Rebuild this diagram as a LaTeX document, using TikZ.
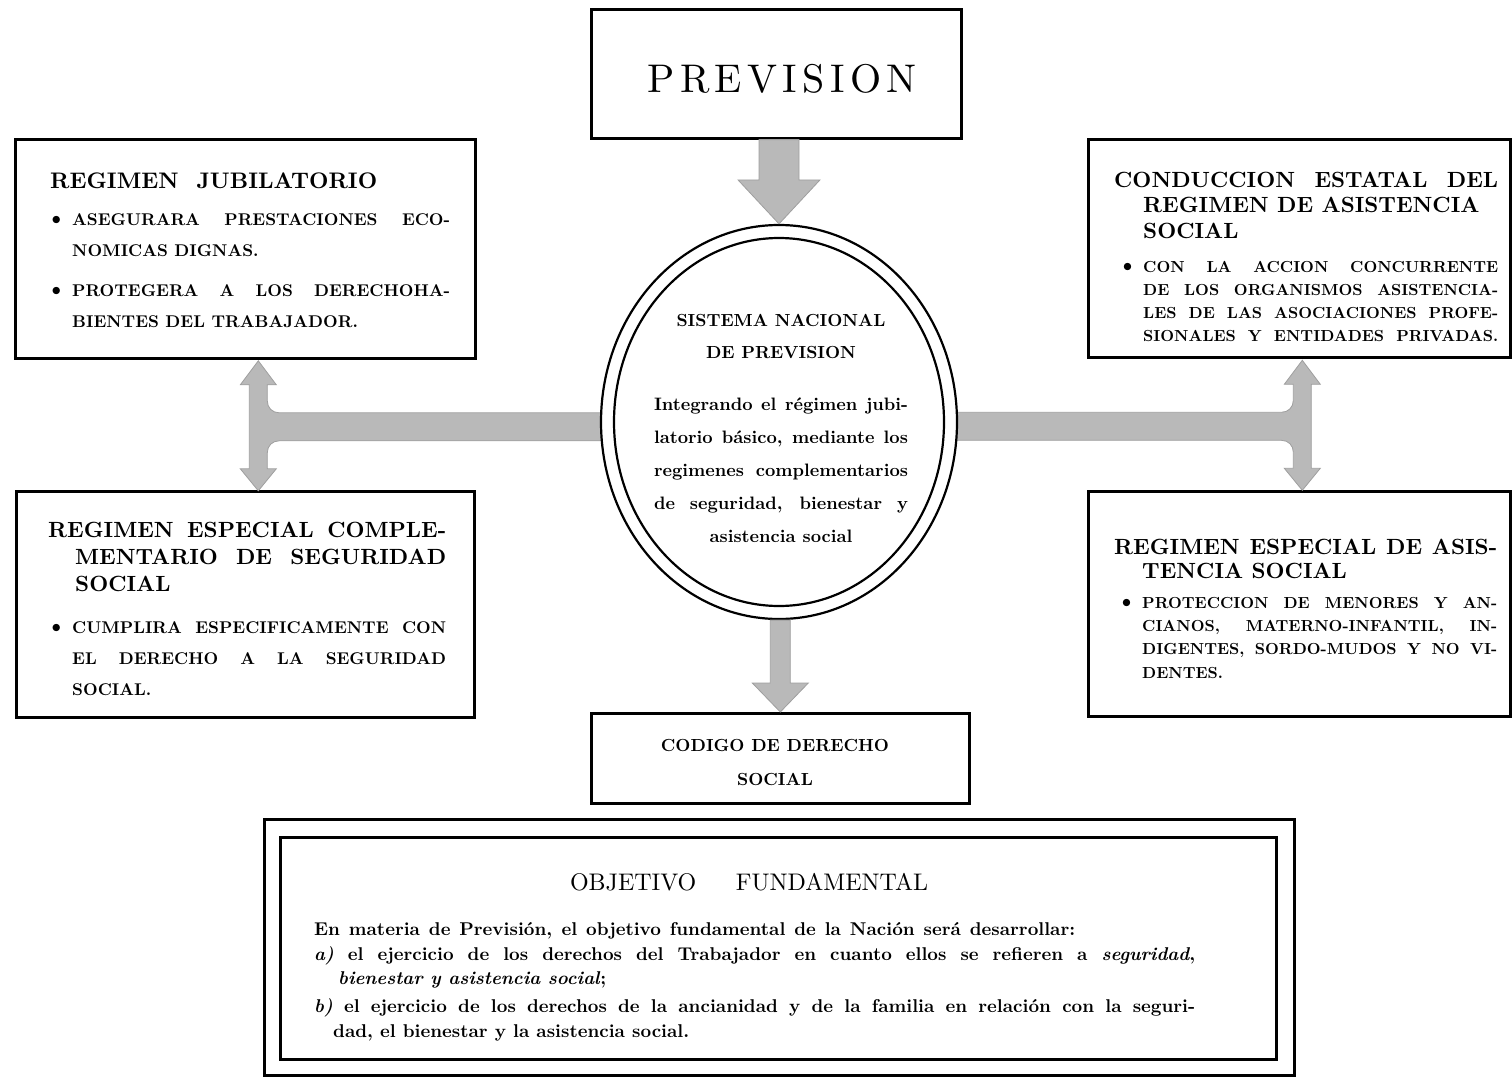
\documentclass[tikz,border=0pt]{standalone}
\usepackage{fontspec}
\setmainfont{lmroman10-regular.otf}[BoldFont=lmroman10-bold.otf,
  ItalicFont=lmroman10-italic.otf, BoldItalicFont=lmroman10-bolditalic.otf]
\usetikzlibrary{shapes.geometric,calc}

\tikzset{
  frame/.style={draw, line width=2.6pt, inner sep=0pt, anchor=north west},
  ring/.style={draw, ellipse, line width=2.2pt, inner sep=0pt},
  greyarrow/.style={fill=gray!55, draw=gray!75, line width=0.8pt},
  txt/.style={anchor=base west, inner sep=0pt, align=left},
  ctxt/.style={anchor=base, inner sep=0pt, align=center},
}

\newcommand{\fsz}[2]{\fontsize{#1}{#2}\selectfont}
\newcommand{\jl}[2]{\makebox[#1pt][s]{#2}}
\newcommand{\bul}{\llap{{\fsz{24}{24}\textbullet}\hspace{5pt}}}
% T-shaped double arrow, origin at the joint
\newcommand{\tconn}[1]{\path[greyarrow,#1] (0,-66) -- (18,-42) -- (9,-42) -- (9,-26)
  .. controls (9,-19) and (14,-14) .. (21,-14) -- (352,-14) -- (352,14)
  -- (21,14) .. controls (14,14) and (9,19) .. (9,26) -- (9,42) -- (18,42)
  -- (0,64) -- (-18,42) -- (-9,42) -- (-9,-42) -- (-18,-42) -- cycle;}
% broad arrow pointing down: from, to, half shaft, half head, head length
\newcommand{\blockdown}[5]{\path[greyarrow] let \p1=(#1), \p2=(#2) in
  (\x2-#3,\y1) -- (\x2+#3,\y1) -- (\x2+#3,\y2+#5) -- (\x2+#4,\y2+#5)
  -- (\x2,\y2) -- (\x2-#4,\y2+#5) -- (\x2-#3,\y2+#5) -- cycle;}

\begin{document}
\begin{tikzpicture}[x=1pt,y=-1pt]
  \useasboundingbox (0,0) rectangle (1512,1076);

  % frames
  \node[frame, minimum width=370, minimum height=129] (prev) at (590,8) {};
  \node[frame, minimum width=460, minimum height=219] (jubil) at (14,138) {};
  \node[frame, minimum width=422, minimum height=218] (cond) at (1087,138) {};
  \node[frame, minimum width=458, minimum height=226] (compl) at (15,490) {};
  \node[frame, minimum width=422, minimum height=225] (asist) at (1087,490) {};
  \node[frame, minimum width=378, minimum height=90] (codigo) at (590,712) {};
  \node[frame, minimum width=1030, minimum height=256] (objout) at (263,818) {};
  \node[frame, minimum width=996, minimum height=222] (objin) at (279,836) {};

  % side connectors
  \tconn{shift={($(jubil.south)!0.5!(compl.north)+(13,2)$)}}
  \tconn{shift={($(cond.south)!0.5!(asist.north)+(3,2)$)}, xscale=-1}

  % central system
  \node[ring, fill=white, minimum width=356, minimum height=394] (sist) at (779,422) {};
  \node[ring, minimum width=330, minimum height=368] (sistin) at (sist.center) {};

  \blockdown{prev.south}{sist.north}{20}{41}{44}
  \blockdown{sist.south}{codigo.north}{10}{28}{29}

  % texts (multi-line nodes sit on the baseline of their last line)
  \node[ctxt, font=\fsz{40}{40}] (prevtxt) at (782,92)
    {\makebox[269pt]{P\hfill R\hfill E\hfill V\hfill I\hfill S\hfill I\hfill O\hfill N}};

  \node[txt, font=\bfseries\fsz{22.5}{22}] (jubilh) at (50,188) {\jl{327}{REGIMEN JUBILATORIO}};
  \node[txt, font=\bfseries\fsz{17}{31}] (jubilb) at (72,327) {\bul\jl{378}{ASEGURARA PRESTACIONES ECO-}\\
    NOMICAS DIGNAS.\\[9pt]
    \bul\jl{378}{PROTEGERA A LOS DERECHOHA-}\\
    BIENTES DEL TRABAJADOR.};

  \node[txt, font=\bfseries\fsz{22}{27}] (complh) at (48,591) {\jl{398}{REGIMEN ESPECIAL COMPLE-}\\
    \hspace*{27pt}\jl{371}{MENTARIO DE SEGURIDAD}\\
    \hspace*{27pt}SOCIAL};
  \node[txt, font=\bfseries\fsz{17}{31}] (complb) at (72,695) {\bul\jl{374}{CUMPLIRA ESPECIFICAMENTE CON}\\
    \jl{374}{EL DERECHO A LA SEGURIDAD}\\
    SOCIAL.};

  \node[txt, font=\bfseries\fsz{22}{25.5}] (condh) at (1114,238) {\jl{384}{CONDUCCION ESTATAL DEL}\\
    \hspace*{29pt}REGIMEN DE ASISTENCIA\\
    \hspace*{29pt}SOCIAL};
  \node[txt, font=\bfseries\fsz{16}{23}] (condb) at (1143,341) {\bul\jl{355}{CON LA ACCION CONCURRENTE}\\
    \jl{355}{DE LOS ORGANISMOS ASISTENCIA-}\\
    \jl{355}{LES DE LAS ASOCIACIONES PROFE-}\\
    \jl{355}{SIONALES Y ENTIDADES PRIVADAS.}};

  \node[txt, font=\bfseries\fsz{22}{24}] (asisth) at (1114,578) {\jl{383}{REGIMEN ESPECIAL DE ASIS-}\\
    \hspace*{28pt}TENCIA SOCIAL};
  \node[txt, font=\bfseries\fsz{16}{23.3}] (asistb) at (1142,678) {\bul\jl{355}{PROTECCION DE MENORES Y AN-}\\
    \jl{355}{CIANOS, MATERNO-INFANTIL, IN-}\\
    \jl{355}{DIGENTES, SORDO-MUDOS Y NO VI-}\\
    DENTES.};

  \node[ctxt, font=\bfseries\fsz{17.5}{32}] (sisth) at (781,358) {SISTEMA NACIONAL\\DE PREVISION};
  \node[ctxt, font=\bfseries\fsz{18}{33}] (sistb) at (781,542) {\jl{254}{Integrando el régimen jubi-}\\
    \jl{254}{latorio básico, mediante los}\\
    \jl{254}{regimenes complementarios}\\
    \jl{254}{de seguridad, bienestar y}\\
    asistencia social};

  \node[ctxt, font=\bfseries\fsz{17.5}{34}] (codigotxt) at (775,785) {CODIGO DE DERECHO\\SOCIAL};

  \node[ctxt, font=\fsz{24}{24}] (objh) at (749,890) {\jl{358}{OBJETIVO FUNDAMENTAL}};
  \node[txt, font=\bfseries\fsz{18.5}{24.3}] (objb) at (314,1037) {\jl{761}{En materia de Previsión, el objetivo fundamental de la Nación será desarrollar:}\\
    \jl{881}{\textit{a)} el ejercicio de los derechos del Trabajador en cuanto ellos se refieren a \textit{seguridad},}\\
    \hspace*{24pt}\textit{bienestar y asistencia social};\\[4pt]
    \jl{881}{\textit{b)} el ejercicio de los derechos de la ancianidad y de la familia en relación con la seguri-}\\
    \hspace*{19pt}dad, el bienestar y la asistencia social.};
\end{tikzpicture}
\end{document}
